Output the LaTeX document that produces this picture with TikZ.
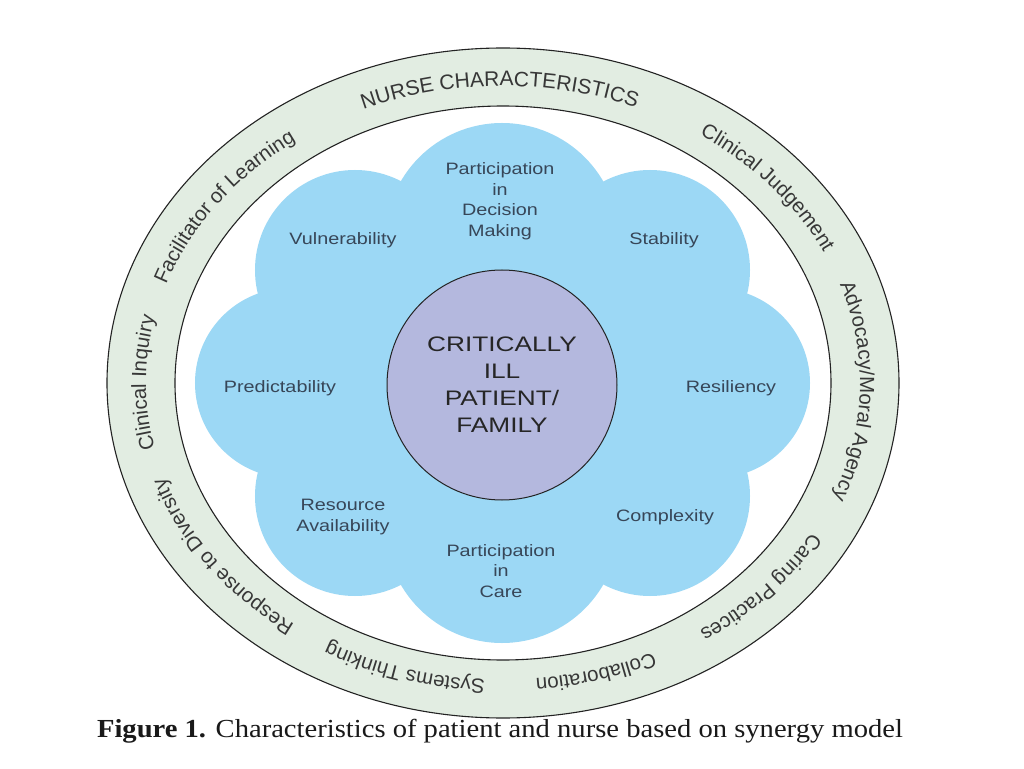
\documentclass[tikz,border=0pt]{standalone}
\usepackage{fontspec}
\setmainfont{Liberation Serif}
\newfontfamily\lobefont[FakeStretch=1.2]{Liberation Sans}
\newfontfamily\ctrfont[FakeStretch=1.25]{Liberation Sans}
\newfontfamily\ringfont{Liberation Sans}
\newfontfamily\capfont[FakeStretch=1.1]{Liberation Serif}
\usetikzlibrary{decorations.text}
\definecolor{ringfill}{RGB}{226,237,226}
\definecolor{cloudblue}{RGB}{156,216,245}
\definecolor{ctrfill}{RGB}{180,184,222}
\definecolor{lobetext}{RGB}{55,70,88}
\definecolor{ringtext}{RGB}{55,55,55}
\definecolor{edge}{RGB}{35,35,35}
\begin{document}
\begin{tikzpicture}[x=1pt,y=1pt,
  lobe/.style={fill=cloudblue, draw=none},
  lobelabel/.style={font=\lobefont\fontsize{16.5}{20.5}\selectfont, text=lobetext, align=center, inner sep=0pt},
  ringlabel/.style={decorate, decoration={text along path, text align=center,
     text={|\ringfont\fontsize{20.5}{21}\selectfont\color{ringtext}|#1}}},
  ringtitle/.style={decorate, decoration={text along path, text align=center,
     text={|\ringfont\fontsize{21}{21}\selectfont\color{ringtext}|#1}}}
]
\fill[white] (-503,-385) rectangle (521,383);
\useasboundingbox (-503,-385) rectangle (521,383);

% ring
\fill[ringfill] (0,0) ellipse[x radius=396, y radius=335];
\fill[white] (0,0) ellipse[x radius=328, y radius=277];
\draw[edge, line width=1.1pt] (0,0) ellipse[x radius=396, y radius=335];
\draw[edge, line width=1.1pt] (0,0) ellipse[x radius=328, y radius=277];

% cloud
\fill[lobe] (0,0) circle[radius=180];
\fill[lobe] (-1,143) circle[radius=117];
\fill[lobe] (-1,-143) circle[radius=117];
\fill[lobe] (-148,113) circle[radius=100];
\fill[lobe] (147,113) circle[radius=100];
\fill[lobe] (-148,-113) circle[radius=100];
\fill[lobe] (147,-113) circle[radius=100];
\fill[lobe] (-213,0) circle[radius=95];
\fill[lobe] (212,0) circle[radius=95];

% centre
\node[circle, minimum size=230pt, inner sep=0pt, fill=ctrfill, draw=edge, line width=1pt,
      font=\ctrfont\fontsize{21}{27}\selectfont, text=black!85, align=center] (core) at (-1,-2)
      {CRITICALLY\\ILL\\PATIENT/\\FAMILY};

% lobe labels
\node[lobelabel] (pdm) at (-3,182) {Participation\\in\\Decision\\Making};
\node[lobelabel] (vul) at (-160,143) {Vulnerability};
\node[lobelabel] (sta) at (161,143) {Stability};
\node[lobelabel] (pre) at (-223,-5) {Predictability};
\node[lobelabel] (res) at (228,-5) {Resiliency};
\node[lobelabel] (rav) at (-160,-134) {Resource\\Availability};
\node[lobelabel] (com) at (162,-134) {Complexity};
\node[lobelabel] (pic) at (-2,-188) {Participation\\in\\Care};

% ring labels (clockwise, tops outward)
\path[ringtitle={NURSE CHARACTERISTICS}] (135.6:357pt and 297pt) arc[start angle=135.6, end angle=45.6, x radius=357pt, y radius=297pt];
\path[ringlabel={Clinical Judgement}] (79.5:357pt and 297pt) arc[start angle=79.5, end angle=-0.5, x radius=357pt, y radius=297pt];
\path[ringlabel={Advocacy/Moral Agency}] (38.5:357pt and 297pt) arc[start angle=38.5, end angle=-41.5, x radius=357pt, y radius=297pt];
\path[ringlabel={Caring Practices}] (-1.5:357pt and 297pt) arc[start angle=-1.5, end angle=-81.5, x radius=357pt, y radius=297pt];
\path[ringlabel={Collaboration}] (-34:357pt and 297pt) arc[start angle=-34, end angle=-114, x radius=357pt, y radius=297pt];
\path[ringlabel={Systems Thinking}] (-67:357pt and 297pt) arc[start angle=-67, end angle=-147, x radius=357pt, y radius=297pt];
\path[ringlabel={Response to Diversity}] (-105.2:357pt and 297pt) arc[start angle=-105.2, end angle=-185.2, x radius=357pt, y radius=297pt];
\path[ringlabel={Clinical Inquiry}] (220:357pt and 297pt) arc[start angle=220, end angle=140, x radius=357pt, y radius=297pt];
\path[ringlabel={Facilitator of Learning}] (184.7:357pt and 297pt) arc[start angle=184.7, end angle=104.7, x radius=357pt, y radius=297pt];

% caption
\node[anchor=base, inner sep=0pt, font=\capfont\fontsize{26}{30}\selectfont, text=black!90] (cap) at (-3,-354)
  {\textbf{Figure 1.} Characteristics of patient and nurse based on synergy model};
\end{tikzpicture}
\end{document}
